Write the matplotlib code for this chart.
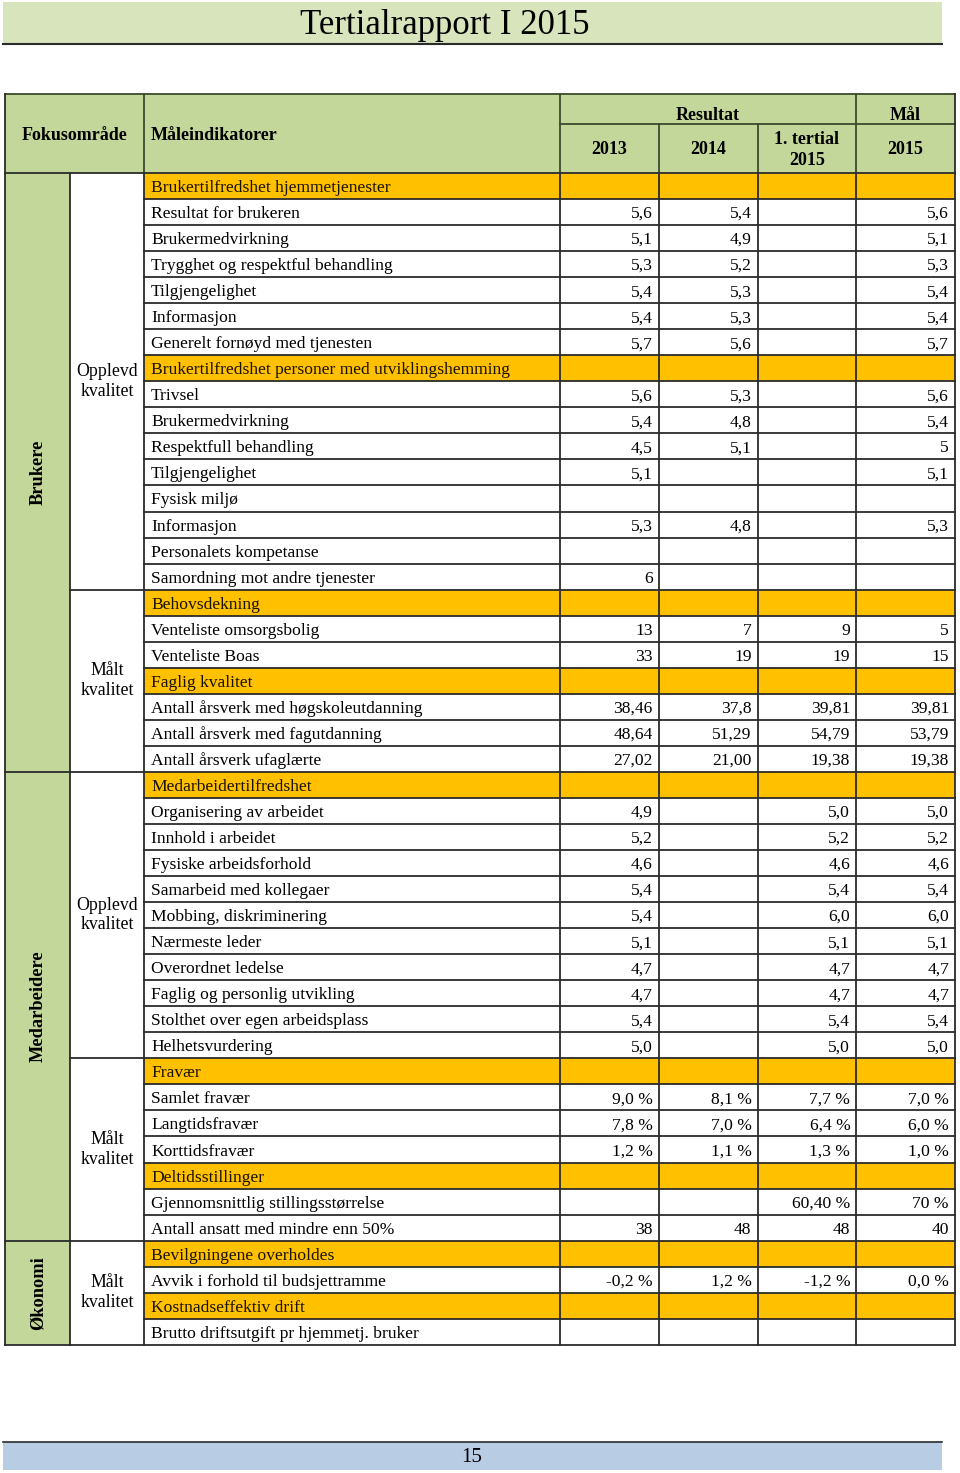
import matplotlib
matplotlib.use("Agg")
import matplotlib.pyplot as plt
from matplotlib.patches import Rectangle

plt.rcParams['font.family'] = ['Liberation Serif', 'DejaVu Serif']

title = "Tertialrapport I 2015"
page_number = "15"
col_headers = ["2013", "2014", "1. tertial\n2015", "2015"]

indicators = [
    "Brukertilfredshet hjemmetjenester", "Resultat for brukeren", "Brukermedvirkning",
    "Trygghet og respektful behandling", "Tilgjengelighet", "Informasjon",
    "Generelt fornøyd med tjenesten", "Brukertilfredshet personer med utviklingshemming",
    "Trivsel", "Brukermedvirkning", "Respektfull behandling", "Tilgjengelighet",
    "Fysisk miljø", "Informasjon", "Personalets kompetanse", "Samordning mot andre tjenester",
    "Behovsdekning", "Venteliste omsorgsbolig", "Venteliste Boas", "Faglig kvalitet",
    "Antall årsverk med høgskoleutdanning", "Antall årsverk med fagutdanning",
    "Antall årsverk ufaglærte", "Medarbeidertilfredshet", "Organisering av arbeidet",
    "Innhold i arbeidet", "Fysiske arbeidsforhold", "Samarbeid med kollegaer",
    "Mobbing, diskriminering", "Nærmeste leder", "Overordnet ledelse",
    "Faglig og personlig utvikling", "Stolthet over egen arbeidsplass", "Helhetsvurdering",
    "Fravær", "Samlet fravær", "Langtidsfravær", "Korttidsfravær", "Deltidsstillinger",
    "Gjennomsnittlig stillingsstørrelse", "Antall ansatt med mindre enn 50%",
    "Bevilgningene overholdes", "Avvik i forhold til budsjettramme",
    "Kostnadseffektiv drift", "Brutto driftsutgift pr hjemmetj. bruker",
]
highlight_rows = [0, 7, 16, 19, 23, 34, 38, 41, 43]

v2013 = ["", "5,6", "5,1", "5,3", "5,4", "5,4", "5,7", "", "5,6", "5,4", "4,5", "5,1", "",
         "5,3", "", "6", "", "13", "33", "", "38,46", "48,64", "27,02", "", "4,9", "5,2",
         "4,6", "5,4", "5,4", "5,1", "4,7", "4,7", "5,4", "5,0", "", "9,0 %", "7,8 %",
         "1,2 %", "", "", "38", "", "-0,2 %", "", ""]
v2014 = ["", "5,4", "4,9", "5,2", "5,3", "5,3", "5,6", "", "5,3", "4,8", "5,1", "", "",
         "4,8", "", "", "", "7", "19", "", "37,8", "51,29", "21,00", "", "", "", "", "",
         "", "", "", "", "", "", "", "8,1 %", "7,0 %", "1,1 %", "", "", "48", "", "1,2 %",
         "", ""]
vtert = ["", "", "", "", "", "", "", "", "", "", "", "", "", "", "", "", "", "9", "19", "",
         "39,81", "54,79", "19,38", "", "5,0", "5,2", "4,6", "5,4", "6,0", "5,1", "4,7",
         "4,7", "5,4", "5,0", "", "7,7 %", "6,4 %", "1,3 %", "", "60,40 %", "48", "",
         "-1,2 %", "", ""]
vmal = ["", "5,6", "5,1", "5,3", "5,4", "5,4", "5,7", "", "5,6", "5,4", "5", "5,1", "",
        "5,3", "", "", "", "5", "15", "", "39,81", "53,79", "19,38", "", "5,0", "5,2", "4,6",
        "5,4", "6,0", "5,1", "4,7", "4,7", "5,4", "5,0", "", "7,0 %", "6,0 %", "1,0 %", "",
        "70 %", "40", "", "0,0 %", "", ""]

focus_areas = ["Brukere", "Medarbeidere", "Økonomi"]
focus_spans = [(0, 23), (23, 41), (41, 45)]
quality_labels = ["Opplevd\nkvalitet", "Målt\nkvalitet", "Opplevd\nkvalitet",
                  "Målt\nkvalitet", "Målt\nkvalitet"]
quality_spans = [(0, 16), (16, 23), (23, 34), (34, 41), (41, 45)]

# ---- layout ----
W, H = 960, 1473
GREEN_HDR = "#c4d79b"
GREEN_TITLE = "#d8e4bc"
ORANGE = "#ffc000"
BLUE = "#b8cce4"
LINE = "#2b2b2b"
FS = 12.6

fig = plt.figure(figsize=(W / 100, H / 100), dpi=100)
ax = fig.add_axes([0, 0, 1, 1])
ax.set_xlim(0, W)
ax.set_ylim(H, 0)
ax.axis("off")

# title bar
ax.add_patch(Rectangle((3, 2), 939, 42, facecolor=GREEN_TITLE, edgecolor="none"))
ax.plot([3, 942], [44, 44], color=LINE, lw=1.5)
ax.text(445, 25, title, fontsize=25, ha="center", va="center")

# footer
ax.add_patch(Rectangle((3, 1442), 939, 28, facecolor=BLUE, edgecolor="none"))
ax.plot([3, 942], [1442, 1442], color=LINE, lw=1.2)
ax.text(472, 1458, page_number, fontsize=15, ha="center", va="center")

# columns
x0, x1, x2 = 5, 70, 144
xd = [560, 658.75, 757.5, 856.25, 955]
top, hdr_mid, hdr_bot = 94, 124, 173
rh = 26.04
n = len(indicators)

def ry(i):
    return hdr_bot + i * rh

bottom = ry(n)

# header background
ax.add_patch(Rectangle((x0, top), xd[-1] - x0, hdr_bot - top, facecolor=GREEN_HDR,
                       edgecolor="none"))
hdr_line = "#3b4a2b"
HFS = 13
ax.text((x0 + x2) / 2, 135, "Fokusområde", fontsize=HFS, fontweight="bold",
        ha="center", va="center")
ax.text(151, 135, "Måleindikatorer", fontsize=HFS, fontweight="bold", ha="left", va="center")
ax.text((xd[0] + xd[3]) / 2, 116, "Resultat", fontsize=HFS, fontweight="bold",
        ha="center", va="center")
ax.text((xd[3] + xd[4]) / 2, 116, "Mål", fontsize=HFS, fontweight="bold",
        ha="center", va="center")
for j, h in enumerate(col_headers):
    ax.text((xd[j] + xd[j + 1]) / 2, 150, h, fontsize=HFS, fontweight="bold",
            ha="center", va="center", linespacing=1.25)

# body fills
for (a, b) in focus_spans:
    ax.add_patch(Rectangle((x0, ry(a)), x1 - x0, ry(b) - ry(a), facecolor=GREEN_HDR,
                           edgecolor="none"))
for i in highlight_rows:
    ax.add_patch(Rectangle((x2, ry(i)), xd[-1] - x2, rh, facecolor=ORANGE, edgecolor="none"))

# body text
cols = [v2013, v2014, vtert, vmal]
for i, lab in enumerate(indicators):
    yc = ry(i) + rh / 2 + 2
    ax.text(151, yc, lab, fontsize=FS, ha="left", va="center",
            color="#1a1200" if i in highlight_rows else "black")
    for j, c in enumerate(cols):
        if c[i]:
            ax.text(xd[j + 1] - 6, yc, c[i], fontsize=FS, ha="right", va="center")

for lab, (a, b) in zip(focus_areas, focus_spans):
    ax.text((x0 + x1) / 2 + 1, (ry(a) + ry(b)) / 2, lab, fontsize=13.2, fontweight="bold",
            rotation=90, ha="center", va="center")
for lab, (a, b) in zip(quality_labels, quality_spans):
    ax.text((x1 + x2) / 2, (ry(a) + ry(b)) / 2, lab, fontsize=12.8,
            ha="center", va="center", linespacing=1.2)

# lines
lw = 1.3
ax.plot([x0, xd[-1]], [top, top], color=hdr_line, lw=lw)
ax.plot([xd[0], xd[-1]], [hdr_mid, hdr_mid], color=hdr_line, lw=lw)
for x in [x2, xd[0], xd[3]]:
    ax.plot([x, x], [top, hdr_bot], color=hdr_line, lw=lw)
for x in [xd[1], xd[2]]:
    ax.plot([x, x], [hdr_mid, hdr_bot], color=hdr_line, lw=lw)
ax.plot([x0, x0], [top, bottom], color=LINE, lw=lw)
ax.plot([xd[-1], xd[-1]], [top, bottom], color=LINE, lw=lw)
ax.plot([x0, xd[-1]], [hdr_bot, hdr_bot], color=LINE, lw=lw)
for x in [x1, x2] + xd[:-1]:
    ax.plot([x, x], [hdr_bot, bottom], color=LINE, lw=lw)
for i in range(1, n + 1):
    ax.plot([x2, xd[-1]], [ry(i), ry(i)], color=LINE, lw=lw)
for (a, b) in focus_spans:
    ax.plot([x0, x1], [ry(b), ry(b)], color=LINE, lw=lw)
for (a, b) in quality_spans:
    ax.plot([x1, x2], [ry(b), ry(b)], color=LINE, lw=lw)

fig.savefig("out.png", dpi=100, facecolor="white")
